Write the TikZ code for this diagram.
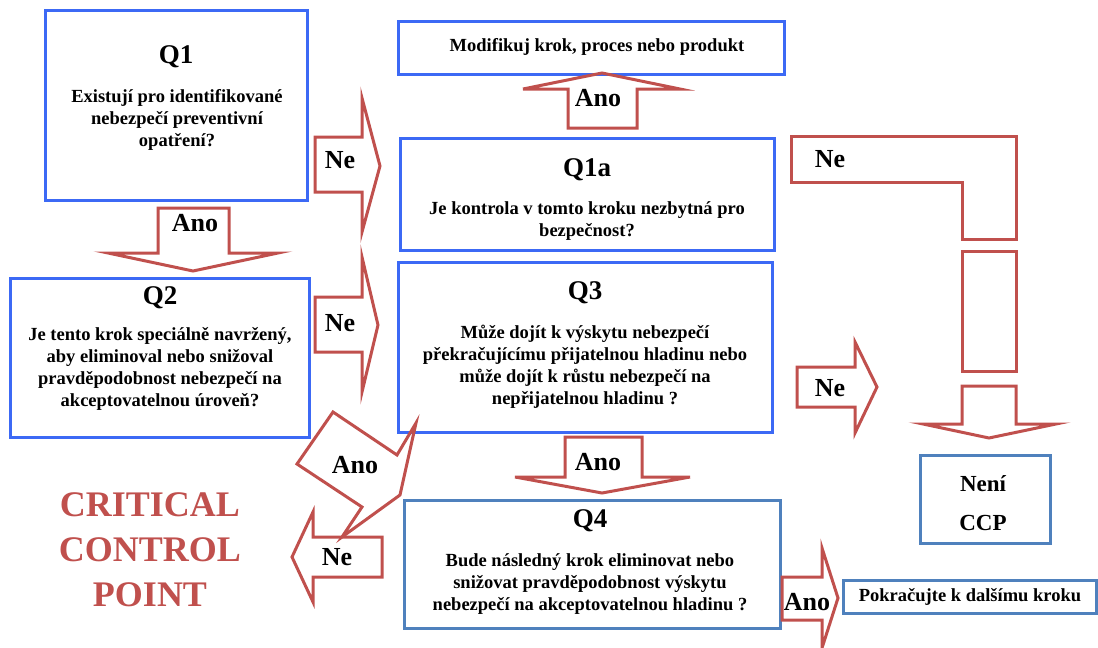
\documentclass[tikz,border=0pt]{standalone}
\usepackage{fontspec}
\setmainfont{Liberation Serif}
\usepackage{xcolor}
\usetikzlibrary{positioning}

\definecolor{boxblue}{RGB}{60,105,245}
\definecolor{steelblue}{RGB}{79,129,189}
\definecolor{arrred}{RGB}{192,80,77}

\begin{document}
\begin{tikzpicture}[
x=1pt, y=-1pt,
box/.style={draw=boxblue, line width=3pt, inner sep=0pt},
sbox/.style={draw=steelblue, line width=3pt, inner sep=0pt},
txt/.style={align=center, inner sep=0pt, font=\fontsize{18.5}{22}\selectfont\bfseries},
head/.style={inner sep=0pt, font=\fontsize{27}{30}\selectfont\bfseries},
lbl/.style={inner sep=0pt, font=\fontsize{26}{28}\selectfont\bfseries},
blk/.style={draw=arrred, line width=3pt, line join=miter}
]
\useasboundingbox (0,0) rectangle (1098,648);

\node[box, minimum width=262pt, minimum height=190pt] (q1) at (176,105) {};
\node[head] (q1h) at (176,57) {Q1};
\node[txt] (q1t) at (177,120) {Existují pro identifikované\\nebezpečí preventivní\\opatření?};

\node[box, minimum width=386pt, minimum height=53pt] (mod) at (591,47.5) {};
\node[txt] (modt) at (597,47) {Modifikuj krok, proces nebo produkt};

\node[box, minimum width=374pt, minimum height=112pt] (q1a) at (587,194) {};
\node[head] (q1ah) at (587,170) {Q1a};
\node[txt] (q1at) at (587,221) {Je kontrola v tomto kroku nezbytná pro\\bezpečnost?};

\node[box, minimum width=299pt, minimum height=159pt] (q2) at (159.5,357.5) {};
\node[head] (q2h) at (160,298) {Q2};
\node[txt] (q2t) at (160,369) {Je tento krok speciálně navržený,\\aby eliminoval nebo snižoval\\pravděpodobnost nebezpečí na\\akceptovatelnou úroveň?};

\node[box, minimum width=374pt, minimum height=170pt] (q3) at (585,347) {};
\node[head] (q3h) at (585,293) {Q3};
\node[txt] (q3t) at (585,366.5) {Může dojít k výskytu nebezpečí\\překračujícímu přijatelnou hladinu nebo\\může dojít k růstu nebezpečí na\\nepřijatelnou hladinu ?};

\node[sbox, minimum width=376pt, minimum height=128pt] (q4) at (592,564) {};
\node[head] (q4h) at (590,521) {Q4};
\node[txt] (q4t) at (590,584) {Bude následný krok eliminovat nebo\\snižovat pravděpodobnost výskytu\\nebezpečí na akceptovatelnou hladinu ?};

\node[sbox, minimum width=130pt, minimum height=88pt] (nccp) at (985,499) {};
\node[align=center, inner sep=0pt, font=\fontsize{23}{39}\selectfont\bfseries] (nccpt) at (983,503) {Není\\CCP};

\node[sbox, minimum width=253pt, minimum height=33pt] (next) at (969.5,596.5) {};
\node[txt] (nextt) at (970,597) {Pokračujte k dalšímu kroku};

\node[align=center, inner sep=0pt, text=arrred, font=\fontsize{36}{45}\selectfont\bfseries] (ccp) at (150,550) {CRITICAL\\CONTROL\\POINT};

\draw[blk] (315,137) -- (362,137) -- (362,98) -- (380,166) -- (362,232) -- (362,192) -- (315,192) -- cycle;
\node[lbl] (ne1) at (340,160) {Ne};

\draw[blk] (158,208) -- (229,208) -- (229,253) -- (278,253) -- (193,271) -- (108,253) -- (158,253) -- cycle;
\node[lbl] (ano1) at (195,223) {Ano};

\draw[blk] (315,297) -- (362,297) -- (362,257) -- (378,325) -- (362,392) -- (362,352) -- (315,352) -- cycle;
\node[lbl] (ne2) at (340,323) {Ne};

\draw[blk] (568,128) -- (568,89) -- (523,89) -- (602,73) -- (680,89) -- (637,89) -- (637,128) -- cycle;
\node[lbl] (ano2) at (598,98) {Ano};

\draw[blk] (565,437) -- (642,437) -- (642,477) -- (690,477) -- (602,493) -- (515,477) -- (565,477) -- cycle;
\node[lbl] (ano3) at (598,462) {Ano};

\draw[blk] (297,464) -- (333,412) -- (397,455) -- (416,423) -- (400,495) -- (342,537) -- (362,507) -- cycle;
\node[lbl] (ano4) at (355,465) {Ano};

\draw[blk] (382,537) -- (382,577) -- (313,577) -- (313,602) -- (292,557) -- (313,512) -- (313,537) -- cycle;
\node[lbl] (ne3) at (337,557) {Ne};

\draw[blk] (797,367) -- (855,367) -- (855,342) -- (877,387) -- (855,433) -- (855,407) -- (797,407) -- cycle;
\node[lbl] (ne4) at (830,388) {Ne};

\draw[blk] (791,136) -- (1016,136) -- (1016,239) -- (962,239) -- (962,182) -- (791,182) -- cycle;
\node[lbl] (ne5) at (830,159) {Ne};
\draw[blk] (962,251) rectangle (1016,371);
\draw[blk] (962,386) -- (1016,386) -- (1016,424) -- (1056,424) -- (989,438) -- (923,424) -- (962,424) -- cycle;

\draw[blk] (782,577) -- (822,577) -- (822,548) -- (838,598) -- (822,648) -- (822,620) -- (782,620) -- cycle;
\node[lbl] (ano5) at (807,602) {Ano};

\end{tikzpicture}
\end{document}
